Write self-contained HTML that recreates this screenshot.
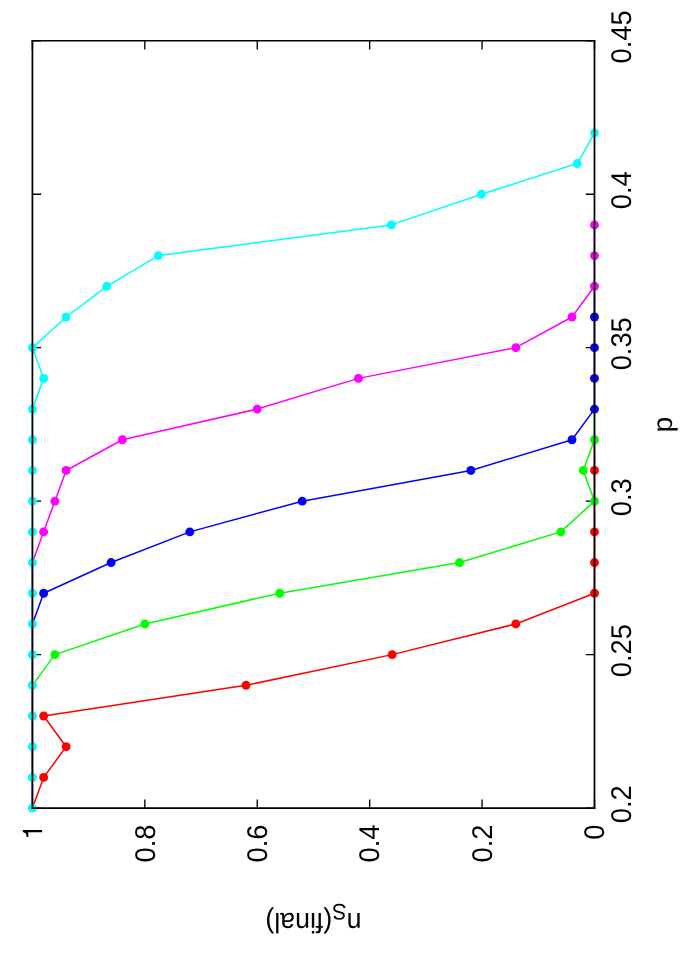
<!DOCTYPE html>
<html><head><meta charset="utf-8"><title>plot</title>
<style>
html,body{margin:0;padding:0;background:#fff;}
svg{display:block;}
text{font-family:"Liberation Sans",sans-serif;fill:#000;text-rendering:geometricPrecision;}
svg{will-change:transform;}
</style></head>
<body>
<svg width="681" height="973" viewBox="0 0 681 973">
<rect x="0" y="0" width="681" height="973" fill="#ffffff"/>
<g stroke="#000" stroke-width="1.35" fill="none" stroke-linecap="butt">
<path d="M32.42,808.10H41.12 M594.48,808.10H585.78"/>
<path d="M32.42,654.63H41.12 M594.48,654.63H585.78"/>
<path d="M32.42,501.16H41.12 M594.48,501.16H585.78"/>
<path d="M32.42,347.69H41.12 M594.48,347.69H585.78"/>
<path d="M32.42,194.22H41.12 M594.48,194.22H585.78"/>
<path d="M32.42,40.75H41.12 M594.48,40.75H585.78"/>
<path d="M594.48,808.10V799.40 M594.48,40.75V49.45"/>
<path d="M482.07,808.10V799.40 M482.07,40.75V49.45"/>
<path d="M369.66,808.10V799.40 M369.66,40.75V49.45"/>
<path d="M257.24,808.10V799.40 M257.24,40.75V49.45"/>
<path d="M144.83,808.10V799.40 M144.83,40.75V49.45"/>
<path d="M32.42,808.10V799.40 M32.42,40.75V49.45"/>
</g>
<g stroke="#ff0000" fill="#ff0000">
<path d="M32.42,808.10 L43.66,777.41 L66.14,746.71 L43.66,716.02 L246.00,685.32 L392.14,654.63 L515.79,623.94 L594.48,593.24 L594.48,562.55 L594.48,531.85 L594.48,501.16 L594.48,470.47 L594.48,439.77" fill="none" stroke-width="1.50" stroke-linejoin="round" stroke-linecap="butt"/>
<circle cx="32.42" cy="808.10" r="3.75" stroke="none"/><circle cx="43.66" cy="777.41" r="4.45" stroke="none"/><circle cx="66.14" cy="746.71" r="4.45" stroke="none"/><circle cx="43.66" cy="716.02" r="4.45" stroke="none"/><circle cx="246.00" cy="685.32" r="4.45" stroke="none"/><circle cx="392.14" cy="654.63" r="4.45" stroke="none"/><circle cx="515.79" cy="623.94" r="4.45" stroke="none"/><circle cx="594.48" cy="593.24" r="4.45" stroke="none"/><circle cx="594.48" cy="562.55" r="4.45" stroke="none"/><circle cx="594.48" cy="531.85" r="4.45" stroke="none"/><circle cx="594.48" cy="501.16" r="3.75" stroke="none"/><circle cx="594.48" cy="470.47" r="4.45" stroke="none"/><circle cx="594.48" cy="439.77" r="3.75" stroke="none"/>
</g>
<g stroke="#00ff00" fill="#00ff00">
<path d="M32.42,808.10 L32.42,777.41" fill="none" stroke-width="0.90" stroke-linejoin="round" stroke-linecap="butt"/>
<path d="M32.42,777.41 L32.42,746.71" fill="none" stroke-width="0.90" stroke-linejoin="round" stroke-linecap="butt"/>
<path d="M32.42,746.71 L32.42,716.02" fill="none" stroke-width="0.90" stroke-linejoin="round" stroke-linecap="butt"/>
<path d="M32.42,716.02 L32.42,685.32" fill="none" stroke-width="0.90" stroke-linejoin="round" stroke-linecap="butt"/>
<path d="M32.42,685.32 L54.90,654.63 L144.83,623.94 L279.73,593.24 L459.59,562.55 L560.76,531.85 L594.48,501.16 L583.24,470.47 L594.48,439.77 L594.48,409.08" fill="none" stroke-width="1.50" stroke-linejoin="round" stroke-linecap="butt"/>
<circle cx="32.42" cy="808.10" r="3.75" stroke="none"/><circle cx="32.42" cy="777.41" r="3.75" stroke="none"/><circle cx="32.42" cy="746.71" r="3.75" stroke="none"/><circle cx="32.42" cy="716.02" r="3.75" stroke="none"/><circle cx="32.42" cy="685.32" r="3.75" stroke="none"/><circle cx="54.90" cy="654.63" r="4.45" stroke="none"/><circle cx="144.83" cy="623.94" r="4.45" stroke="none"/><circle cx="279.73" cy="593.24" r="4.45" stroke="none"/><circle cx="459.59" cy="562.55" r="4.45" stroke="none"/><circle cx="560.76" cy="531.85" r="4.45" stroke="none"/><circle cx="594.48" cy="501.16" r="4.45" stroke="none"/><circle cx="583.24" cy="470.47" r="4.45" stroke="none"/><circle cx="594.48" cy="439.77" r="4.45" stroke="none"/><circle cx="594.48" cy="409.08" r="3.75" stroke="none"/>
</g>
<g stroke="#0000ff" fill="#0000ff">
<path d="M32.42,808.10 L32.42,777.41" fill="none" stroke-width="1.20" stroke-linejoin="round" stroke-linecap="butt"/>
<path d="M32.42,777.41 L32.42,746.71" fill="none" stroke-width="1.20" stroke-linejoin="round" stroke-linecap="butt"/>
<path d="M32.42,746.71 L32.42,716.02" fill="none" stroke-width="1.20" stroke-linejoin="round" stroke-linecap="butt"/>
<path d="M32.42,716.02 L32.42,685.32" fill="none" stroke-width="1.20" stroke-linejoin="round" stroke-linecap="butt"/>
<path d="M32.42,685.32 L32.42,654.63" fill="none" stroke-width="1.20" stroke-linejoin="round" stroke-linecap="butt"/>
<path d="M32.42,654.63 L32.42,623.94" fill="none" stroke-width="1.20" stroke-linejoin="round" stroke-linecap="butt"/>
<path d="M32.42,623.94 L43.66,593.24 L111.11,562.55 L189.80,531.85 L302.21,501.16 L470.83,470.47 L572.00,439.77 L594.48,409.08 L594.48,378.38 L594.48,347.69 L594.48,317.00 L594.48,286.30" fill="none" stroke-width="1.50" stroke-linejoin="round" stroke-linecap="butt"/>
<circle cx="32.42" cy="808.10" r="3.75" stroke="none"/><circle cx="32.42" cy="777.41" r="3.75" stroke="none"/><circle cx="32.42" cy="746.71" r="3.75" stroke="none"/><circle cx="32.42" cy="716.02" r="3.75" stroke="none"/><circle cx="32.42" cy="685.32" r="3.75" stroke="none"/><circle cx="32.42" cy="654.63" r="3.75" stroke="none"/><circle cx="32.42" cy="623.94" r="3.75" stroke="none"/><circle cx="43.66" cy="593.24" r="4.45" stroke="none"/><circle cx="111.11" cy="562.55" r="4.45" stroke="none"/><circle cx="189.80" cy="531.85" r="4.45" stroke="none"/><circle cx="302.21" cy="501.16" r="4.45" stroke="none"/><circle cx="470.83" cy="470.47" r="4.45" stroke="none"/><circle cx="572.00" cy="439.77" r="4.45" stroke="none"/><circle cx="594.48" cy="409.08" r="4.45" stroke="none"/><circle cx="594.48" cy="378.38" r="4.45" stroke="none"/><circle cx="594.48" cy="347.69" r="4.45" stroke="none"/><circle cx="594.48" cy="317.00" r="4.45" stroke="none"/><circle cx="594.48" cy="286.30" r="3.75" stroke="none"/>
</g>
<g stroke="#ff00ff" fill="#ff00ff">
<path d="M32.42,808.10 L32.42,777.41" fill="none" stroke-width="1.50" stroke-linejoin="round" stroke-linecap="butt"/>
<path d="M32.42,777.41 L32.42,746.71" fill="none" stroke-width="1.50" stroke-linejoin="round" stroke-linecap="butt"/>
<path d="M32.42,746.71 L32.42,716.02" fill="none" stroke-width="1.50" stroke-linejoin="round" stroke-linecap="butt"/>
<path d="M32.42,716.02 L32.42,685.32" fill="none" stroke-width="1.50" stroke-linejoin="round" stroke-linecap="butt"/>
<path d="M32.42,685.32 L32.42,654.63" fill="none" stroke-width="1.50" stroke-linejoin="round" stroke-linecap="butt"/>
<path d="M32.42,654.63 L32.42,623.94" fill="none" stroke-width="1.50" stroke-linejoin="round" stroke-linecap="butt"/>
<path d="M32.42,623.94 L32.42,593.24" fill="none" stroke-width="1.50" stroke-linejoin="round" stroke-linecap="butt"/>
<path d="M32.42,593.24 L32.42,562.55" fill="none" stroke-width="1.50" stroke-linejoin="round" stroke-linecap="butt"/>
<path d="M32.42,562.55 L43.66,531.85 L54.90,501.16 L66.14,470.47 L122.35,439.77 L257.24,409.08 L358.41,378.38 L515.79,347.69 L572.00,317.00 L594.48,286.30 L594.48,255.61 L594.48,224.91" fill="none" stroke-width="1.50" stroke-linejoin="round" stroke-linecap="butt"/>
<circle cx="32.42" cy="808.10" r="3.75" stroke="none"/><circle cx="32.42" cy="777.41" r="3.75" stroke="none"/><circle cx="32.42" cy="746.71" r="3.75" stroke="none"/><circle cx="32.42" cy="716.02" r="3.75" stroke="none"/><circle cx="32.42" cy="685.32" r="3.75" stroke="none"/><circle cx="32.42" cy="654.63" r="3.75" stroke="none"/><circle cx="32.42" cy="623.94" r="3.75" stroke="none"/><circle cx="32.42" cy="593.24" r="3.75" stroke="none"/><circle cx="32.42" cy="562.55" r="3.75" stroke="none"/><circle cx="43.66" cy="531.85" r="4.45" stroke="none"/><circle cx="54.90" cy="501.16" r="4.45" stroke="none"/><circle cx="66.14" cy="470.47" r="4.45" stroke="none"/><circle cx="122.35" cy="439.77" r="4.45" stroke="none"/><circle cx="257.24" cy="409.08" r="4.45" stroke="none"/><circle cx="358.41" cy="378.38" r="4.45" stroke="none"/><circle cx="515.79" cy="347.69" r="4.45" stroke="none"/><circle cx="572.00" cy="317.00" r="4.45" stroke="none"/><circle cx="594.48" cy="286.30" r="4.45" stroke="none"/><circle cx="594.48" cy="255.61" r="4.45" stroke="none"/><circle cx="594.48" cy="224.91" r="4.45" stroke="none"/>
</g>
<g stroke="#00ffff" fill="#00ffff">
<path d="M32.42,808.10 L32.42,777.41 L32.42,746.71 L32.42,716.02 L32.42,685.32 L32.42,654.63 L32.42,623.94 L32.42,593.24 L32.42,562.55 L32.42,531.85 L32.42,501.16 L32.42,470.47 L32.42,439.77 L32.42,409.08 L43.66,378.38 L32.42,347.69 L66.14,317.00 L106.78,286.30 L158.32,255.61 L391.30,224.91 L481.51,194.22 L577.34,163.53 L594.48,132.83" fill="none" stroke-width="1.50" stroke-linejoin="round" stroke-linecap="butt"/>
<circle cx="32.42" cy="808.10" r="4.45" stroke="none"/><circle cx="32.42" cy="777.41" r="4.45" stroke="none"/><circle cx="32.42" cy="746.71" r="4.45" stroke="none"/><circle cx="32.42" cy="716.02" r="4.45" stroke="none"/><circle cx="32.42" cy="685.32" r="4.45" stroke="none"/><circle cx="32.42" cy="654.63" r="4.45" stroke="none"/><circle cx="32.42" cy="623.94" r="4.45" stroke="none"/><circle cx="32.42" cy="593.24" r="4.45" stroke="none"/><circle cx="32.42" cy="562.55" r="4.45" stroke="none"/><circle cx="32.42" cy="531.85" r="4.45" stroke="none"/><circle cx="32.42" cy="501.16" r="4.45" stroke="none"/><circle cx="32.42" cy="470.47" r="4.45" stroke="none"/><circle cx="32.42" cy="439.77" r="4.45" stroke="none"/><circle cx="32.42" cy="409.08" r="4.45" stroke="none"/><circle cx="43.66" cy="378.38" r="4.45" stroke="none"/><circle cx="32.42" cy="347.69" r="4.45" stroke="none"/><circle cx="66.14" cy="317.00" r="4.45" stroke="none"/><circle cx="106.78" cy="286.30" r="4.45" stroke="none"/><circle cx="158.32" cy="255.61" r="4.45" stroke="none"/><circle cx="391.30" cy="224.91" r="4.45" stroke="none"/><circle cx="481.51" cy="194.22" r="4.45" stroke="none"/><circle cx="577.34" cy="163.53" r="4.45" stroke="none"/><circle cx="594.48" cy="132.83" r="4.45" stroke="none"/>
</g>
<g stroke="#000" fill="none" stroke-linecap="butt">
<path d="M32.42,40.00V808.95 M594.48,40.00V808.95" stroke-width="1.75"/>
<path d="M31.55,40.75H595.36" stroke-width="1.5"/>
<path d="M31.55,808.10H595.36" stroke-width="1.7"/>
</g>
<text font-size="27.30" text-anchor="middle" transform="translate(631.20,804.20) rotate(-90) scale(1,1.045)">0.2</text>
<text font-size="27.30" text-anchor="middle" transform="translate(631.20,650.73) rotate(-90) scale(1,1.045)">0.25</text>
<text font-size="27.30" text-anchor="middle" transform="translate(631.20,497.26) rotate(-90) scale(1,1.045)">0.3</text>
<text font-size="27.30" text-anchor="middle" transform="translate(631.20,343.79) rotate(-90) scale(1,1.045)">0.35</text>
<text font-size="27.30" text-anchor="middle" transform="translate(631.20,190.32) rotate(-90) scale(1,1.045)">0.4</text>
<text font-size="27.30" text-anchor="middle" transform="translate(631.20,36.85) rotate(-90) scale(1,1.045)">0.45</text>
<text font-size="27.30" text-anchor="end" transform="translate(604.18,824.60) rotate(-90) scale(1,1.045)">0</text>
<text font-size="27.30" text-anchor="end" transform="translate(491.77,824.60) rotate(-90) scale(1,1.045)">0.2</text>
<text font-size="27.30" text-anchor="end" transform="translate(379.36,824.60) rotate(-90) scale(1,1.045)">0.4</text>
<text font-size="27.30" text-anchor="end" transform="translate(266.94,824.60) rotate(-90) scale(1,1.045)">0.6</text>
<text font-size="27.30" text-anchor="end" transform="translate(154.53,824.60) rotate(-90) scale(1,1.045)">0.8</text>
<path aria-label="1" fill="#000" transform="translate(42.12,839.78) rotate(-90) scale(0.02730,-0.02730)" d="M359 0H273V505H101V568C215 570 262 600 286 706H359Z"/>
<text font-size="27.30" text-anchor="middle" transform="translate(671.50,424.57) rotate(-90) scale(1.035,1.000)">p</text>
<text font-size="27.30" text-anchor="middle" transform="translate(313.40,912.80) rotate(180) scale(0.98,1.030)">n<tspan font-size="21.84" dy="8.19">S</tspan><tspan dy="-8.19">(final)</tspan></text>
</svg>
</body></html>
